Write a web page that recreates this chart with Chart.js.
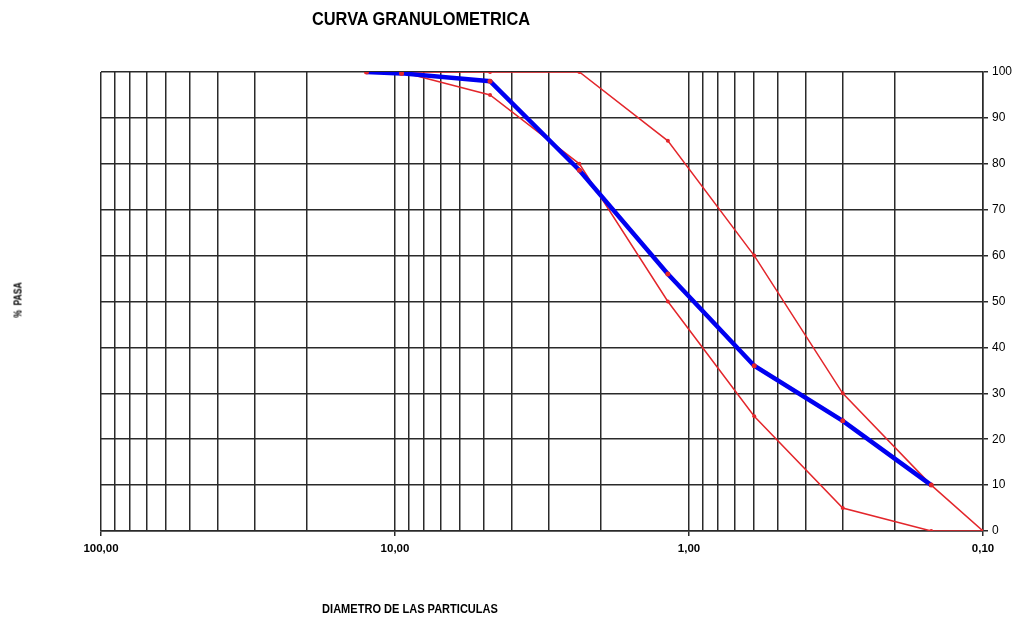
<!DOCTYPE html>
<html>
<head>
<meta charset="utf-8">
<title>Curva granulometrica</title>
<script src="https://cdn.jsdelivr.net/npm/chart.js@4/dist/chart.umd.min.js"></script>
<style>
  html, body { margin: 0; padding: 0; background: #fff; }
  #wrap { position: relative; width: 1013px; height: 618px; }
  #chart { position: absolute; left: 0; top: 0; }
  .lbl {
    position: absolute;
    font-family: "Liberation Sans Narrow", "Arial Narrow", "Liberation Sans", sans-serif;
    font-weight: bold;
    color: #000;
    white-space: nowrap;
  }
  #titulo { left: 421px; top: 19px; font-size: 18px; transform: translate(-50%, -50%) scaleX(0.91); }
  #ejeX { left: 410px; top: 609px; font-size: 12px; transform: translate(-50%, -50%) scaleX(0.92); }
  #ejeY { left: 18px; top: 300px; font-size: 10px; transform: translate(-50%, -50%) rotate(-90deg) scaleX(0.85); }
</style>
</head>
<body>
<div id="wrap">
  <canvas id="chart" width="1013" height="618"></canvas>
  <div class="lbl" id="titulo">CURVA GRANULOMETRICA</div>
  <div class="lbl" id="ejeX">DIAMETRO DE LAS PARTICULAS</div>
  <div class="lbl" id="ejeY">%&nbsp;&nbsp;PASA</div>
</div>
<script>
// Datos de la curva (diametro en mm, % que pasa)
const diametros = [12.5, 9.5, 4.75, 2.36, 1.18, 0.6, 0.3, 0.15, 0.1];
const pasaMuestra = [100, 99.7, 98, 78.6, 56, 36, 24, 10];
const limiteSuperior = [100, 100, 100, 100, 85, 60, 30, 10, 0];
const limiteInferior = [100, 100, 95, 80, 50, 25, 5, 0, 0];

// Lineas de la grilla logaritmica y etiquetas principales
const lineasX = [0.1, 0.2, 0.3, 0.4, 0.5, 0.6, 0.7, 0.8, 0.9,
                 1, 2, 3, 4, 5, 6, 7, 8, 9,
                 10, 20, 30, 40, 50, 60, 70, 80, 90, 100];
const valoresMayoresX = [100, 10, 1, 0.1];
const etiquetasX = ['100,00', '10,00', '1,00', '0,10'];
const ticksY = [0, 10, 20, 30, 40, 50, 60, 70, 80, 90, 100];

const ROJO = '#e3262b';
const AZUL = '#0000f0';
const GRILLA = '#2a2a2a';
const FUENTE = '"Liberation Sans Narrow", "Arial Narrow", "Liberation Sans", sans-serif';

function puntos(valores) {
  return valores.map((v, i) => ({ x: diametros[i], y: v }));
}

const ctx = document.getElementById('chart');
new Chart(ctx, {
  type: 'line',
  data: {
    datasets: [
      {
        label: 'Muestra',
        data: puntos(pasaMuestra),
        borderColor: AZUL,
        borderWidth: 4.5,
        pointRadius: 2.5,
        pointBackgroundColor: ROJO,
        pointBorderWidth: 0,
        tension: 0
      },
      {
        label: 'Limite superior',
        data: puntos(limiteSuperior),
        borderColor: ROJO,
        borderWidth: 1.5,
        pointRadius: 2,
        pointBackgroundColor: ROJO,
        pointBorderWidth: 0,
        tension: 0
      },
      {
        label: 'Limite inferior',
        data: puntos(limiteInferior),
        borderColor: ROJO,
        borderWidth: 1.5,
        pointRadius: 2,
        pointBackgroundColor: ROJO,
        pointBorderWidth: 0,
        tension: 0
      }
    ]
  },
  options: {
    responsive: false,
    animation: false,
    layout: { padding: { left: 101, top: 72, right: 0, bottom: 0 } },
    plugins: {
      legend: { display: false },
      title: { display: false },
      tooltip: { enabled: false }
    },
    scales: {
      x: {
        type: 'logarithmic',
        reverse: true,
        min: 0.1,
        max: 100,
        afterBuildTicks: (scale) => {
          scale.ticks = lineasX.map(v => ({ value: v }));
        },
        afterFit: (scale) => { scale.height = 87; },
        grid: {
          color: GRILLA,
          lineWidth: 1.5,
          drawTicks: true,
          tickLength: 5,
          tickColor: (c) => valoresMayoresX.includes(c.tick && c.tick.value) ? GRILLA : 'rgba(0,0,0,0)'
        },
        border: { display: true, color: GRILLA, width: 1.5 },
        ticks: {
          autoSkip: false,
          maxRotation: 0,
          padding: 6,
          color: '#000',
          font: { family: FUENTE, size: 11.5, weight: 'bold' },
          callback: (value) => {
            const i = valoresMayoresX.indexOf(value);
            return i >= 0 ? etiquetasX[i] : '';
          }
        }
      },
      y: {
        position: 'right',
        min: 0,
        max: 100,
        afterBuildTicks: (scale) => {
          scale.ticks = ticksY.map(v => ({ value: v }));
        },
        afterFit: (scale) => { scale.width = 30; },
        grid: {
          color: GRILLA,
          lineWidth: 1.5,
          drawTicks: true,
          tickLength: 5,
          tickColor: GRILLA
        },
        border: { display: true, color: GRILLA, width: 1.5 },
        ticks: {
          padding: 4,
          color: '#000',
          font: { family: FUENTE, size: 12 }
        }
      }
    }
  }
});
</script>
</body>
</html>
